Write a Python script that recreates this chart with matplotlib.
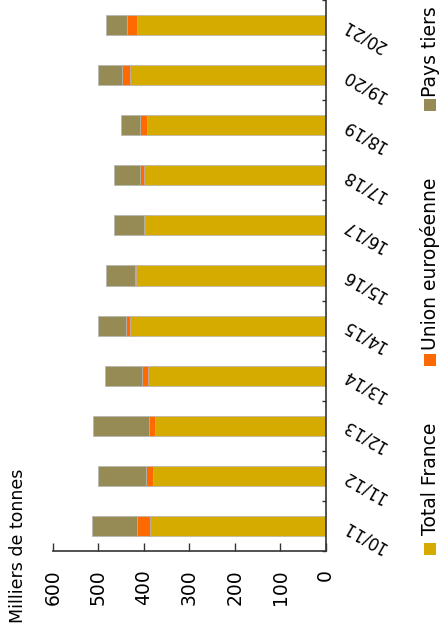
import matplotlib.pyplot as plt
from matplotlib.patches import Rectangle
import numpy as np

# Campaigns (bottom to top once rotated)
campagnes = ['10/11', '11/12', '12/13', '13/14', '14/15', '15/16',
             '16/17', '17/18', '18/19', '19/20', '20/21']
total_france = [386, 380, 375, 391, 431, 417, 397, 400, 394, 431, 415]
union_europeenne = [29, 15, 13, 12, 9, 2, 3, 9, 15, 17, 22]
pays_tiers = [99, 107, 123, 82, 60, 64, 66, 57, 42, 52, 46]
value_ticks = [0, 100, 200, 300, 400, 500, 600]

c_france = '#D5AB00'
c_ue = '#FF6A00'
c_pt = '#978B55'
c_edge = '#b4b4b4'
c_axis = '#333333'

plt.rcParams['font.family'] = 'DejaVu Sans'

W, H = 440, 624
fig = plt.figure(figsize=(W / 100, H / 100), dpi=100)
ax = fig.add_axes([53 / W, (H - 551) / H, (325.5 - 53) / W, 551 / H])

y = np.arange(len(campagnes))
fr = np.array(total_france)
ue = np.array(union_europeenne)
pt = np.array(pays_tiers)

kw = dict(height=0.4, edgecolor=c_edge, linewidth=0.5)
ax.barh(y, fr, color=c_france, **kw)
ax.barh(y, ue, left=fr, color=c_ue, **kw)
ax.barh(y, pt, left=fr + ue, color=c_pt, **kw)

ax.set_xlim(600, 0)
ax.set_ylim(-0.5, len(campagnes) - 0.5)

for s in ['top', 'left']:
    ax.spines[s].set_visible(False)
for s in ['right', 'bottom']:
    ax.spines[s].set_color(c_axis)
    ax.spines[s].set_linewidth(1.2)

# value axis (bottom)
ax.set_xticks(value_ticks)
ax.set_xticklabels([str(v) for v in value_ticks])
ax.tick_params(axis='x', direction='in', length=6, width=1, color=c_axis,
               pad=13, labelsize=13.5, labelcolor='black')
for lab in ax.get_xticklabels():
    lab.set_rotation(90)
    lab.set_va('top')
    lab.set_ha('center')

# category axis (right)
ax.yaxis.tick_right()
ax.set_yticks(y)
ax.set_yticklabels(campagnes)
ax.set_yticks(np.arange(len(campagnes) + 1) - 0.5, minor=True)
ax.tick_params(axis='y', which='major', length=0, pad=12, labelsize=12)
ax.tick_params(axis='y', which='minor', direction='in', length=3, width=1,
               color=c_axis)
for lab in ax.get_yticklabels():
    lab.set_rotation(150)
    lab.set_rotation_mode('anchor')
    lab.set_ha('right')
    lab.set_va('center_baseline')

# axis title
fig.text(18 / W, 1 / H, 'Milliers de tonnes', rotation=90, ha='center',
         va='bottom', fontsize=12.5)

# legend, drawn by hand since the whole chart is turned
legend = [('Total France', c_france, 543, 535),
          ('Union européenne', c_ue, 354, 350),
          ('Pays tiers', c_pt, 99, 97)]
for label, col, sq_top, txt_bottom in legend:
    fig.patches.append(Rectangle((424 / W, (H - sq_top - 12) / H), 12 / W, 12 / H,
                                 transform=fig.transFigure, facecolor=col,
                                 edgecolor='none'))
    fig.text(430 / W, (H - txt_bottom) / H, label, rotation=90, ha='center',
             va='bottom', fontsize=13.5)

fig.savefig('out.png', dpi=100)
